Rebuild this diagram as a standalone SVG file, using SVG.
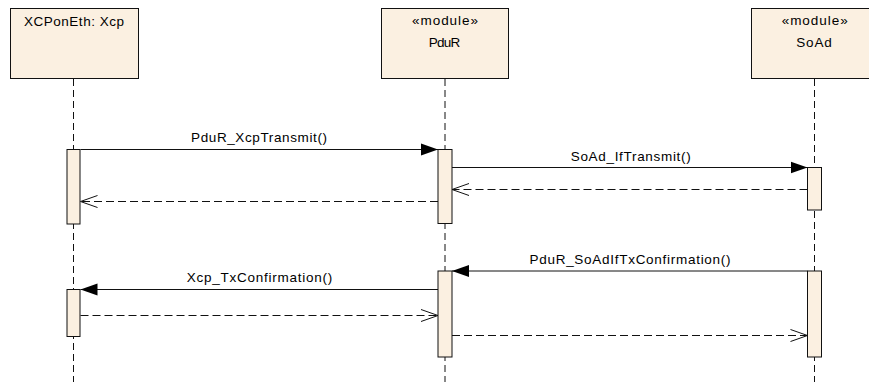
<svg xmlns="http://www.w3.org/2000/svg" width="869" height="382" viewBox="0 0 869 382">
  <style>
    .box { fill: #FBF0E1; stroke: #111; stroke-width: 1; }
    .bar { fill: #FBF0E1; stroke: #111; stroke-width: 1; }
    .life { stroke: #111; stroke-width: 1; stroke-dasharray: 7 4; fill: none; }
    .call { stroke: #111; stroke-width: 1; fill: none; marker-end: url(#solidHead); }
    .ret { stroke: #111; stroke-width: 1; fill: none; stroke-dasharray: 8 4; marker-end: url(#openHead); }
    text { font-family: "Liberation Sans", Arial, sans-serif; font-size: 13.5px; fill: #000; text-anchor: middle; }
  </style>
  <defs>
    <marker id="solidHead" markerUnits="userSpaceOnUse" markerWidth="18" markerHeight="13" refX="17" refY="6.5" orient="auto">
      <path d="M0,0.5 L17,6.5 L0,12.5 Z" fill="#000"/>
    </marker>
    <marker id="openHead" markerUnits="userSpaceOnUse" markerWidth="19" markerHeight="14" refX="17.5" refY="7" orient="auto">
      <path d="M0.5,1 L17.5,7 L0.5,13" fill="none" stroke="#111" stroke-width="1"/>
    </marker>
  </defs>

  <!-- lifelines -->
  <g id="lifelines">
    <line class="life" x1="73.5" y1="79" x2="73.5" y2="382"/>
    <line class="life" x1="445" y1="79" x2="445" y2="382"/>
    <line class="life" x1="814.5" y1="79" x2="814.5" y2="382"/>
  </g>

  <!-- participants -->
  <g id="xcp">
    <rect class="box" x="10.5" y="8.5" width="128" height="70"/>
    <text x="74" y="25.5" textLength="100" lengthAdjust="spacing">XCPonEth: Xcp</text>
  </g>
  <g id="pdur">
    <rect class="box" x="381.5" y="8.5" width="127" height="70"/>
    <text x="445" y="25" textLength="66" lengthAdjust="spacing">«module»</text>
    <text x="444.5" y="46.5" textLength="31.5" lengthAdjust="spacing">PduR</text>
  </g>
  <g id="soad">
    <rect class="box" x="751.5" y="8.5" width="127" height="70"/>
    <text x="814.7" y="25" textLength="66" lengthAdjust="spacing">«module»</text>
    <text x="814" y="46.5" textLength="35.5" lengthAdjust="spacing">SoAd</text>
  </g>

  <!-- activation bars -->
  <g id="activations">
    <rect class="bar" x="67" y="149.5" width="13" height="74.5"/>
    <rect class="bar" x="438" y="149.5" width="14" height="74"/>
    <rect class="bar" x="807.5" y="167.5" width="14" height="42.5"/>
    <rect class="bar" x="438" y="271" width="14" height="86"/>
    <rect class="bar" x="67" y="289.5" width="13" height="47"/>
    <rect class="bar" x="807.5" y="271" width="14" height="86"/>
  </g>

  <!-- messages -->
  <g id="connectors">
    <line class="call" x1="80.5" y1="149.5" x2="438" y2="149.5"/>
    <line class="ret" x1="438" y1="201.5" x2="80.5" y2="201.5"/>
    <line class="call" x1="452" y1="167.5" x2="807.5" y2="167.5"/>
    <line class="ret" x1="807.5" y1="189.5" x2="452" y2="189.5"/>
    <line class="call" x1="807.5" y1="271" x2="452" y2="271"/>
    <line class="call" x1="438" y1="289.5" x2="80.5" y2="289.5"/>
    <line class="ret" x1="80.5" y1="315.5" x2="438" y2="315.5"/>
    <line class="ret" x1="452" y1="335.5" x2="807.5" y2="335.5"/>

    <text x="259" y="142" textLength="136" lengthAdjust="spacing">PduR_XcpTransmit()</text>
    <text x="630.7" y="160.5" textLength="120" lengthAdjust="spacing">SoAd_IfTransmit()</text>
    <text x="630" y="263.5" textLength="201" lengthAdjust="spacing">PduR_SoAdIfTxConfirmation()</text>
    <text x="259.5" y="282" textLength="145.5" lengthAdjust="spacing">Xcp_TxConfirmation()</text>
  </g>
</svg>
